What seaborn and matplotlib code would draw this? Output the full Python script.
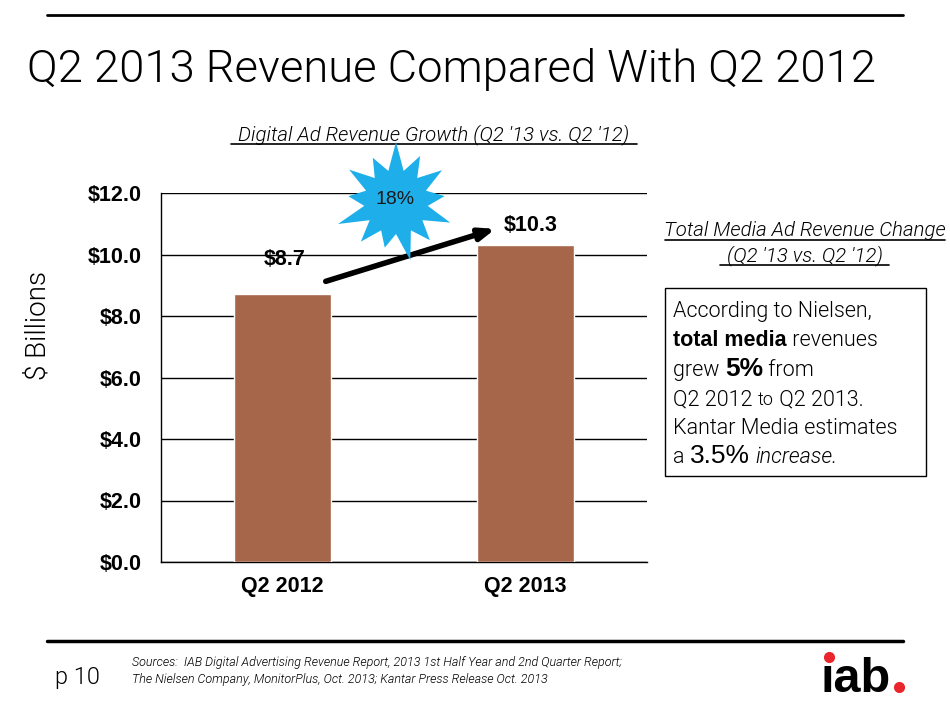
import numpy as np
import pandas as pd
import seaborn as sns
import matplotlib.pyplot as plt
from matplotlib.patches import Polygon, Rectangle
from matplotlib.lines import Line2D

# data
quarters = ["Q2 2012", "Q2 2013"]
revenue = [8.7, 10.3]
value_labels = ["$8.7", "$10.3"]
y_ticks = [0, 2, 4, 6, 8, 10, 12]
y_tick_labels = ["$0.0", "$2.0", "$4.0", "$6.0", "$8.0", "$10.0", "$12.0"]
growth_label = "18%"

df = pd.DataFrame({"quarter": quarters, "revenue": revenue})

sns.set_style("white")
plt.rcParams["font.family"] = ["Liberation Sans", "DejaVu Sans"]
plt.rcParams["text.color"] = "black"
plt.rcParams["xtick.color"] = "black"
plt.rcParams["ytick.color"] = "black"

THIN = "Roboto"
BAR = "#A6664A"
BLUE = "#1EAFEA"

fig = plt.figure(figsize=(9.5, 7.05), dpi=100)
ax = fig.add_axes([161 / 950, 143 / 705, 486 / 950, 369 / 705])

sns.barplot(data=df, x="quarter", y="revenue", color=BAR, width=0.4,
            saturation=1, ax=ax, zorder=3)
ax.set_ylim(0, 12)
ax.set_xlim(-0.5, 1.5)
ax.set_yticks(y_ticks)
ax.set_yticklabels(y_tick_labels, fontsize=15.5, fontweight="bold")
ax.set_xticks([0, 1])
ax.set_xticklabels(quarters, fontsize=15.5, fontweight="bold")
ax.set_xlabel("")
ax.set_ylabel("")
ax.yaxis.grid(True, color="black", linewidth=1.0, zorder=0)
ax.set_axisbelow(True)
for s in ["top", "right"]:
    ax.spines[s].set_visible(False)
for s in ["left", "bottom"]:
    ax.spines[s].set_color("black")
    ax.spines[s].set_linewidth(1.0)
ax.tick_params(axis="y", direction="out", length=6, width=1, pad=8)
ax.tick_params(axis="x", which="major", length=0, pad=10)
# category-boundary ticks like the Excel chart
ax.set_xticks([-0.5, 0.5, 1.5], minor=True)
ax.tick_params(axis="x", which="minor", direction="out", length=6, width=1)

# value labels above bars
offsets = [(2, 24), (5, 9)]
for i, (v, lab) in enumerate(zip(revenue, value_labels)):
    ax.annotate(lab, xy=(i, v), xytext=offsets[i], textcoords="offset pixels",
                ha="center", va="bottom", fontsize=15.5, fontweight="bold")

# growth arrow
ax.annotate("", xy=(0.887, 10.86), xytext=(0.167, 9.1),
            arrowprops=dict(arrowstyle="-|>,head_length=0.9,head_width=0.35",
                            color="black", lw=4), zorder=6)

# overlay for page decorations (pixel coordinates, y down)
ov = fig.add_axes([0, 0, 1, 1], zorder=5)
ov.set_xlim(0, 950)
ov.set_ylim(705, 0)
ov.axis("off")

# starburst
cx, cy = 396, 202
outer = [60, 50, 57, 48, 62, 53, 47, 60, 51, 58, 49, 56, 52]
n = len(outer)
pts = []
for k in range(n):
    a = np.deg2rad(90 + 360 * k / n)
    pts.append((cx + outer[k] * np.cos(a), cy - outer[k] * np.sin(a)))
    a2 = np.deg2rad(90 + 360 * (k + 0.5) / n)
    pts.append((cx + 32 * np.cos(a2), cy - 32 * np.sin(a2)))
ov.add_patch(Polygon(pts, closed=True, facecolor=BLUE, edgecolor="none", zorder=4))
ov.text(395, 204, growth_label, ha="center", va="baseline", fontsize=14, color="#1a1a1a", zorder=5)

# rules
ov.add_line(Line2D([47, 903], [15, 15], color="black", lw=2))
ov.add_line(Line2D([47, 903], [641, 641], color="black", lw=2.5))

# title
ov.text(27, 82, "Q2 2013 Revenue Compared With Q2 2012", fontsize=32.7,
        family=THIN, fontweight=300, va="baseline", ha="left")

# y label
ov.text(38, 325, "$ Billions", rotation=90, fontsize=20, family=THIN,
        fontweight=300, ha="center", va="center")

# chart subtitle
ital = dict(family=THIN, fontweight=300, style="italic", fontsize=14.7)
ov.text(434, 140, "Digital Ad Revenue Growth (Q2 '13 vs. Q2 '12)",
        ha="center", va="baseline", **ital)
ov.add_line(Line2D([231, 637], [144, 144], color="black", lw=1.2))

# side panel
ov.text(805, 236, "Total Media Ad Revenue Change", ha="center", va="baseline", **ital)
ov.add_line(Line2D([665, 945], [240, 240], color="black", lw=1.2))
ov.text(805, 261, "(Q2 '13 vs. Q2 '12)", ha="center", va="baseline", **ital)
ov.add_line(Line2D([720, 889], [265, 265], color="black", lw=1.2))

ov.add_patch(Rectangle((665, 288), 261, 188, facecolor="white", edgecolor="black", lw=1))

light = dict(family=THIN, fontweight=300, fontsize=15.5)
lines = [
    [("According to Nielsen,", light)],
    [("total media", dict(fontsize=15.5, fontweight="bold")), (" revenues", light)],
    [("grew ", light), ("5%", dict(fontsize=19, fontweight="bold")), (" from", light)],
    [("Q2 2012 ", light), ("to", dict(family=THIN, fontweight=300, fontsize=13)), (" Q2 2013.", light)],
    [("Kantar Media estimates", light)],
    [("a ", light), ("3.5%", dict(fontsize=19)), (" ", light),
     ("increase.", dict(family=THIN, fontweight=300, fontsize=15.5, style="italic"))],
]
baselines = [317, 346, 376, 405, 434, 463]
for parts, yb in zip(lines, baselines):
    prev = None
    for txt, kw in parts:
        if prev is None:
            prev = ov.text(673, yb, txt, ha="left", va="baseline", **kw)
        else:
            prev = ov.annotate(txt, xy=(1, yb), xycoords=(prev, "data"),
                               ha="left", va="baseline", **kw)

# footer
ov.text(55, 684, "p 10", fontsize=17, family=THIN, fontweight=300, va="baseline")
ov.text(132, 666, "Sources:  IAB Digital Advertising Revenue Report, 2013 1st Half Year and 2nd Quarter Report;",
        fontsize=9, style="italic", family=THIN, fontweight=300, va="baseline")
ov.text(132, 683, "The Nielsen Company, MonitorPlus, Oct. 2013; Kantar Press Release Oct. 2013",
        fontsize=9, style="italic", family=THIN, fontweight=300, va="baseline")

# logo
ov.text(821, 692, "\u0131ab", fontsize=35, fontweight="bold", va="baseline", ha="left")
ov.add_line(Line2D([829], [657], marker="o", markersize=7, color="#E8262B", lw=0))
ov.add_line(Line2D([899], [687], marker="o", markersize=7, color="#E8262B", lw=0))

fig.savefig("out.png", dpi=100)
